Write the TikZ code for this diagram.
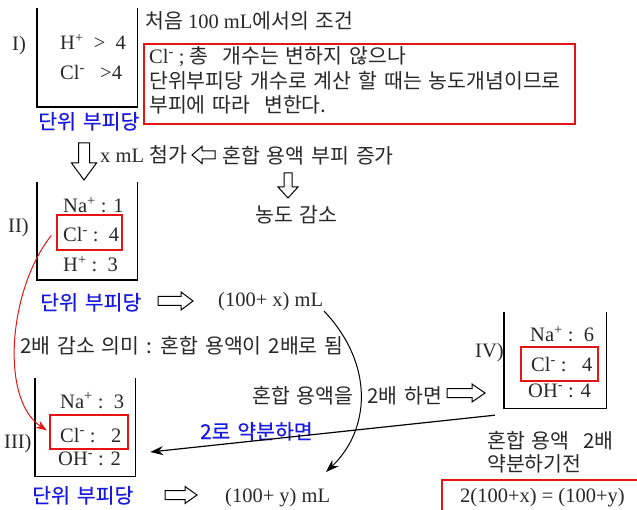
\documentclass[tikz,border=0pt]{standalone}
\usepackage{fontspec}
\setmainfont{Liberation Serif}
\newfontfamily\kr[WordSpace=1.5]{Noto Sans CJK KR}
\newfontfamily\krb[WordSpace=1.5,FakeBold=0.5]{Noto Sans CJK KR}
\usetikzlibrary{arrows.meta,calc}
\newcommand\K[1]{{\kr #1}}
\definecolor{kblue}{RGB}{25,25,225}
\definecolor{kred}{RGB}{230,20,20}
\definecolor{ktext}{RGB}{40,40,40}
% horizontal hollow arrow: tail x, neck x, tip x, y, shaft half, head half
\newcommand\harrowH[6]{\draw[harr] (#1,{#4-#5}) -- (#2,{#4-#5}) -- (#2,{#4-#6}) -- (#3,#4) -- (#2,{#4+#6}) -- (#2,{#4+#5}) -- (#1,{#4+#5}) -- cycle;}
% vertical hollow arrow: x, tail y, neck y, tip y, shaft half, head half
\newcommand\harrowV[6]{\draw[harr] ({#1-#5},#2) -- ({#1-#5},#3) -- ({#1-#6},#3) -- (#1,#4) -- ({#1+#6},#3) -- ({#1+#5},#3) -- ({#1+#5},#2) -- cycle;}
\begin{document}
\begin{tikzpicture}[x=1pt,y=-1pt,
  font=\fontsize{20.5}{24}\selectfont,
  lat/.style={anchor=base west, inner sep=0pt, text=ktext},
  bl/.style={anchor=base west, inner sep=0pt, text=kblue, font=\fontsize{20.5}{24}\selectfont\krb},
  cup/.style={line width=1.4pt, black},
  rbox/.style={draw=kred, line width=1.4pt, inner sep=0pt},
  harr/.style={line width=1pt, black, line join=miter},
  conn/.style={line width=1.2pt, -{Stealth[length=13pt,width=9pt]}}
]
\useasboundingbox (0,0) rectangle (637,510);

% containers
\node[inner sep=0pt, minimum width=100pt, minimum height=99pt] (c1) at (87,57.5) {};
\node[inner sep=0pt, minimum width=100pt, minimum height=98pt] (c2) at (87,231) {};
\node[inner sep=0pt, minimum width=100pt, minimum height=98pt] (c3) at (85,427) {};
\node[inner sep=0pt, minimum width=102pt, minimum height=96pt] (c4) at (555,360) {};
\foreach \c in {c1,c2,c3,c4}
  \draw[cup] (\c.north west) -- (\c.south west) -- (\c.south east) -- (\c.north east);

% red boxes
\node[rbox, minimum width=431pt, minimum height=80pt] (r0) at (359.5,84) {};
\node[rbox, minimum width=65pt, minimum height=35pt] (r2) at (89.5,232.5) {};
\node[rbox, minimum width=78pt, minimum height=34pt] (r3) at (89,432) {};
\node[rbox, minimum width=77pt, minimum height=34pt] (r4) at (559.5,364) {};
\node[rbox, minimum width=203pt, minimum height=40pt] (r5) at (543.5,500) {};

% I
\node[lat] (l1) at (12,51) {I)};
\node[lat] (h1) at (60,50) {H\textsuperscript{+}\ \ >\ \ 4};
\node[lat] (cl1) at (60,80) {Cl\textsuperscript{-}\ \ \ >4};
\node[bl] (u1) at (38,129) {단위 부피당};
\node[lat] (t1) at (145,29) {\K{처음}\ 100 mL\K{에서의\ 조건}};
\node[lat] (r0a) at (149,64) {Cl\textsuperscript{-} ; \K{총\ \ 개수는 변하지 않으나}};
\node[lat] (r0b) at (149,89) {\K{단위부피당 개수로 계산 할 때는 농도개념이므로}};
\node[lat] (r0c) at (149,113) {\K{부피에 따라\ \ 변한다.}};

% arrows and notes
\harrowV{84}{143}{163}{180}{5.5}{12.5}
\node[lat] (xadd) at (100,163) {x mL \K{첨가}};
\harrowH{215}{202}{192}{155}{4}{8.5}
\node[lat] (inc) at (222,164) {\K{혼합 용액 부피 증가}};
\harrowV{288}{173}{187}{198}{4}{10}
\node[lat] (dec) at (255,223) {\K{농도 감소}};

% II
\node[lat] (l2) at (8,233) {II)};
\node[lat] (na2) at (63,213) {Na\textsuperscript{+} : 1};
\node[lat] (cl2) at (63,242) {Cl\textsuperscript{-} :\ \ 4};
\node[lat] (h2) at (63,272) {H\textsuperscript{+} :\ \ 3};
\node[bl] (u2) at (40,310) {단위 부피당};
\harrowH{158}{181}{193}{301}{4.5}{9}
\node[lat] (vx) at (218,307) {(100+ x) mL};
\node[lat] (m2) at (20,354) {\K{2배 감소 의미 : 혼합 용액이 2배로 됨}};

% III
\node[lat] (l3) at (4,448) {III)};
\node[lat] (na3) at (60,408) {Na\textsuperscript{+} :\ \ 3};
\node[lat] (cl3) at (60,442) {Cl\textsuperscript{-} :\ \ \ 2};
\node[lat] (oh3) at (58,465) {OH\textsuperscript{-} : 2};
\node[bl] (u3) at (32,503) {단위 부피당};
\harrowH{165}{185}{197}{495}{4.5}{8.5}
\node[lat] (vy) at (225,502) {(100+ y) mL};

% IV
\node[lat] (dbl) at (252,403) {\K{혼합 용액을\ \ 2배 하면}};
\harrowH{447}{472}{485}{393}{4.5}{9}
\node[lat] (l4) at (475,358) {IV)};
\node[lat] (na4) at (530,342) {Na\textsuperscript{+} :\ \ 6};
\node[lat] (cl4) at (531,372) {Cl\textsuperscript{-} :\ \ \ 4};
\node[lat] (oh4) at (528,397) {OH\textsuperscript{-} : 4};
\node[lat] (n1) at (487,448) {\K{혼합 용액\ \ 2배}};
\node[lat] (n2) at (487,471) {\K{약분하기전}};
\node[lat] (eq) at (460,502) {2(100+x) = (100+y)};
\node[bl] (yak) at (200,439) {2로 약분하면};

% connectors
\coordinate (s4) at ($(c4.south west)+(-9,7)$);
\coordinate (e3) at ($(c3.east)+(15,25)$);
\draw[conn] (s4) -- (e3);
\coordinate (cs) at (324,311);
\coordinate (ce) at (326,472);
\draw[conn, line width=1pt] (cs) .. controls (375,365) and (370,430) .. (ce);
\draw[kred, line width=1pt, -{Stealth[length=11pt,width=8pt]}, shorten >=3pt]
  ($(r2.west)+(-5,3)$) .. controls (8,290) and (0,400) .. (r3.west);
\end{tikzpicture}
\end{document}
